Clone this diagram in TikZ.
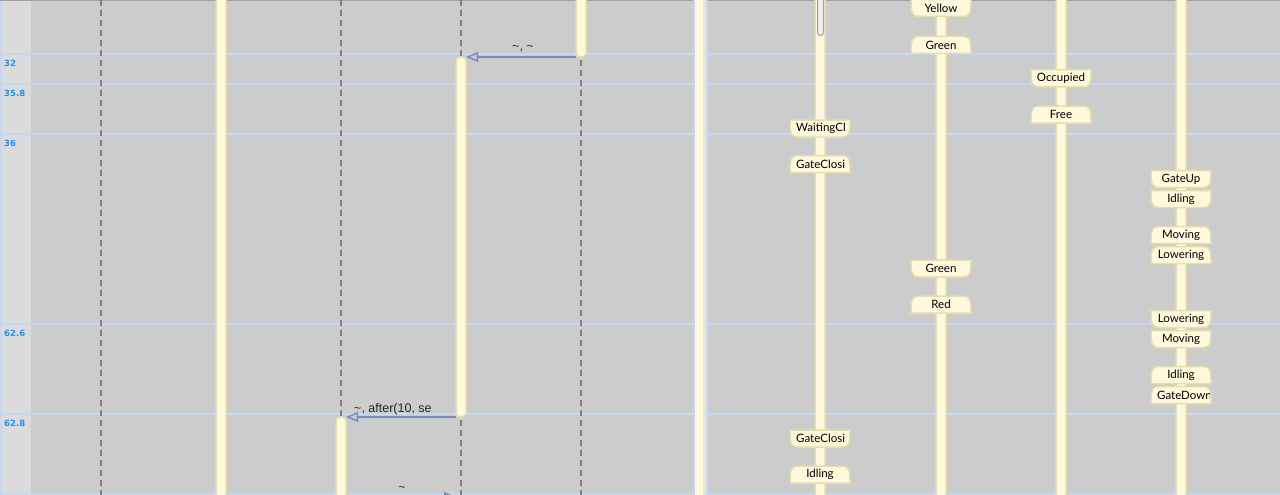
\documentclass[tikz,border=0pt]{standalone}
\usepackage{fontspec}
\setmainfont{Lato}
\newfontfamily\msgfont{Liberation Sans}
\newfontfamily\axisfont{DejaVu Sans}
\usetikzlibrary{arrows.meta}
\definecolor{bgc}{HTML}{CCCCCC}
\definecolor{leftc}{HTML}{DBDBDB}
\definecolor{gridb}{HTML}{C6D7F6}
\definecolor{axisb}{HTML}{2090F0}
\definecolor{dashc}{HTML}{808080}
\definecolor{cream}{HTML}{FFF8DC}
\definecolor{creamline}{HTML}{E3DEAE}
\definecolor{msgc}{HTML}{7D89BE}
\definecolor{topc}{HTML}{A0A0A0}
\tikzset{
  gridline/.style={draw=gridb, line width=2pt},
  axislbl/.style={anchor=west, text=axisb, font=\axisfont\bfseries\fontsize{8.5}{9}\selectfont, inner sep=0pt},
  dashline/.style={draw=dashc, line width=2pt, dash pattern=on 6pt off 4pt},
  barbox/.style={draw=creamline, fill=cream, line width=1.5pt, rounded corners=4pt, minimum width=10pt, inner sep=0pt, outer sep=0pt, anchor=north},
  stshape/.style={draw=creamline, fill=cream, line width=1.5pt},
  sttext/.style={inner sep=0pt, font=\fontsize{11.5}{13}\selectfont, text=black},
  lft/.style={anchor=west, xshift=-24pt},
  msg/.style={draw=msgc, line width=2pt, -{Triangle[open, length=12pt, width=10pt, line width=1.5pt]}},
  msglbl/.style={inner sep=0pt, font=\msgfont\fontsize{12.5}{14}\selectfont, text=black!85},
}
% exit state: flat top, rounded bottom
\newcommand{\stexit}[5]{%
  \draw[stshape] (#2-30,#3-8.5) -- (#2+30,#3-8.5) -- (#2+30,#3-6)
    .. controls (#2+30,#3+6) and (#2+28,#3+8.5) .. (#2+22,#3+8.5) -- (#2-22,#3+8.5)
    .. controls (#2-28,#3+8.5) and (#2-30,#3+6) .. (#2-30,#3-6) -- cycle;
  \begin{scope}
    \clip (#2-29,#3-9) rectangle (#2+28,#3+9);
    \node[sttext,#5] (#1) at (#2,#3) {#4};
  \end{scope}}
% entry state: rounded top, flat bottom
\newcommand{\stentry}[5]{%
  \draw[stshape] (#2-30,#3+8.5) -- (#2+30,#3+8.5) -- (#2+30,#3+6)
    .. controls (#2+30,#3-6) and (#2+28,#3-8.5) .. (#2+22,#3-8.5) -- (#2-22,#3-8.5)
    .. controls (#2-28,#3-8.5) and (#2-30,#3-6) .. (#2-30,#3+6) -- cycle;
  \begin{scope}
    \clip (#2-29,#3-9) rectangle (#2+28,#3+9);
    \node[sttext,#5] (#1) at (#2,#3) {#4};
  \end{scope}}
\begin{document}
\begin{tikzpicture}[x=1pt,y=-1pt]
\useasboundingbox (0,0) rectangle (1280,495);
\clip (0,0) rectangle (1280,495);
% background
\fill[bgc] (0,0) rectangle (1280,495);
\fill[leftc] (0,0) rectangle (31,495);
\draw[gridb, line width=2pt] (1,0) -- (1,495);
% horizontal time lines
\foreach \yy in {54,84,134,324,414,494} { \draw[gridline] (0,\yy) -- (1280,\yy); }
\draw[topc, line width=2pt] (0,0) -- (1280,0);
% axis labels
\node[axislbl] (t32) at (4,63) {32};
\node[axislbl] (t358) at (4,93) {35.8};
\node[axislbl] (t36) at (4,143) {36};
\node[axislbl] (t626) at (4,333) {62.6};
\node[axislbl] (t628) at (4,423) {62.8};
% dashed lifelines
\foreach \xx/\nm in {101/da,341/db,461/dc,581/dd} {
  \coordinate (\nm t) at (\xx,0);
  \coordinate (\nm b) at (\xx,500);
  \draw[dashline] (\nm t) -- (\nm b);
}
% activation bars
\node[barbox, minimum height=520pt] (b221) at (221,-10) {};
\node[barbox, minimum height=67pt] (b581) at (581,-10) {};
\node[barbox, minimum height=360pt] (b461) at (461,57) {};
\node[barbox, minimum height=100pt] (b341) at (341,417) {};
% lifeline with blue edges
\fill[cream] (695,-5) rectangle (706,500);
\fill[creamline!70] (703,-5) rectangle (706,500);
\draw[gridb, line width=2pt] (694,-5) -- (694,500);
\draw[gridb, line width=2pt] (707,-5) -- (707,500);
% state lifelines
\node[barbox, minimum height=520pt] (s820) at (820,-10) {};
\node[barbox, minimum height=520pt] (s941) at (941,-10) {};
\node[barbox, minimum height=520pt] (s1061) at (1061,-10) {};
\node[barbox, minimum height=520pt] (s1181) at (1181,-10) {};
\node[draw=gray!75, fill=gray!12, line width=1pt, rounded corners=3pt, minimum width=6pt, minimum height=45pt, inner sep=0pt, anchor=north] (g820) at (820.5,-10) {};
% states
\stexit{w1}{820}{128.5}{WaitingCl}{lft}
\stentry{c1}{820}{164}{GateClosi}{lft}
\stexit{c2}{820}{438.5}{GateClosi}{lft}
\stentry{i1}{820}{474.5}{Idling}{}
\stexit{y1}{941}{8}{Yellow}{}
\stentry{g1}{941}{45}{Green}{}
\stexit{g2}{941}{268.5}{Green}{}
\stentry{r1}{941}{304.5}{Red}{}
\stexit{o1}{1061}{78.5}{Occupied}{}
\stentry{f1}{1061}{114.5}{Free}{}
\stexit{u1}{1181}{179}{GateUp}{}
\stexit{i2}{1181}{199}{Idling}{}
\stentry{m1}{1181}{235}{Moving}{}
\stentry{l1}{1181}{255}{Lowering}{}
\stexit{l2}{1181}{319}{Lowering}{}
\stexit{m2}{1181}{339}{Moving}{}
\stentry{i3}{1181}{375}{Idling}{}
\stentry{d1}{1181}{395}{GateDown}{lft}
% messages
\draw[msg] (b581.south west) -- (b461.north east);
\node[msglbl] (lm1) at (523,49) {\textasciitilde, \textasciitilde};
\draw[msg] (b461.south west) -- (b341.north east);
\node[msglbl, anchor=west] (lm2) at (354,409) {\textasciitilde, after(10, se};
\coordinate (m3s) at (346,497);
\coordinate (m3e) at (456,497);
\draw[msg] (m3s) -- (m3e);
\node[msglbl] (lm3) at (402,489) {\textasciitilde};
\end{tikzpicture}
\end{document}
